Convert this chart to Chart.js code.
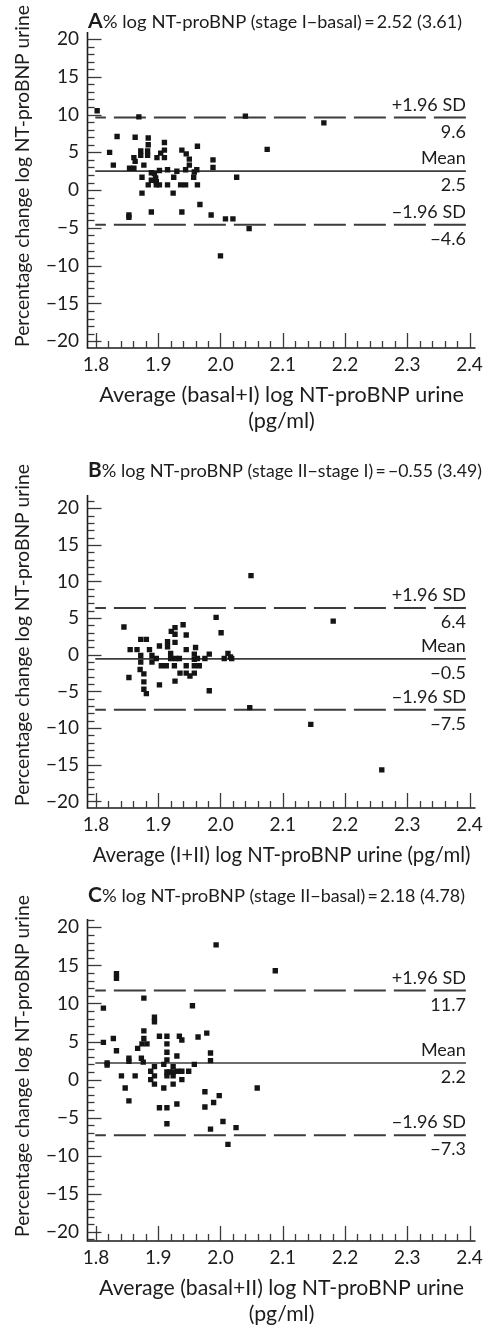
<!DOCTYPE html>
<html><head><meta charset="utf-8">
<script src="https://cdn.jsdelivr.net/npm/chart.js@4.4.1/dist/chart.umd.min.js"></script>
<style>
html,body{margin:0;padding:0;background:#fff;}
body{width:488px;height:1328px;position:relative;overflow:hidden;}
canvas{position:absolute;left:0;display:block;}
</style></head><body>
<canvas id="cA" style="top:0px"></canvas>
<canvas id="cB" style="top:440px"></canvas>
<canvas id="cC" style="top:870px"></canvas>
<script>
// ---------- tick labels ----------
const xTicks = [1.8, 1.9, 2.0, 2.1, 2.2, 2.3, 2.4];
const yTicks = [-20, -15, -10, -5, 0, 5, 10, 15, 20];

// ---------- panel A : stage I - basal ----------
const aX = [1.802,1.869,2.040,1.834,1.863,1.884,1.884,1.910,1.910,1.963,1.822,1.872,1.883,1.872,1.883,
  1.904,1.938,1.945,1.950,1.861,1.863,1.898,1.910,1.828,1.877,1.988,1.988,1.950,2.075,1.854,1.861,
  1.889,1.894,1.902,1.915,1.930,1.944,1.958,1.962,1.874,1.896,1.925,1.957,2.026,1.884,1.897,1.902,
  1.915,1.936,1.944,1.963,1.897,1.889,1.874,1.924,1.967,1.853,1.853,1.889,1.938,1.985,2.008,2.020,
  2.046,2.000,2.166];
const aY = [10.5,9.7,9.8,7.1,7.0,6.9,6.0,6.3,5.3,5.8,5.0,5.2,5.2,4.6,4.6,
  4.9,5.3,4.8,4.1,4.3,3.8,4.3,4.3,3.3,3.3,4.0,3.0,3.3,5.4,2.9,2.9,
  2.3,2.2,2.6,2.7,2.5,2.7,2.4,2.7,1.7,1.6,1.7,1.7,1.7,0.7,0.7,0.7,
  0.7,0.7,0.7,0.7,1.1,1.3,-0.4,-0.4,-1.9,-3.3,-3.6,-2.9,-2.9,-3.3,-3.8,-3.8,
  -5.1,-8.7,8.9];
const aLines = [2.52, 9.6, -4.6];           // mean, +1.96 SD, -1.96 SD
const aLineText = ['2.5', '9.6', '\u22124.6'];

// ---------- panel B : stage II - stage I ----------
const bX = [2.049,1.993,2.001,1.845,1.940,1.921,1.927,1.927,1.945,1.927,1.872,1.881,1.902,1.915,1.915,
  1.855,1.866,1.886,1.945,1.960,1.872,1.872,1.890,1.897,1.890,1.920,1.920,1.928,1.934,1.958,1.958,
  1.963,1.975,1.982,2.006,2.012,2.018,1.905,1.913,1.926,1.945,1.958,1.966,1.871,1.877,1.877,1.935,
  1.945,1.951,1.958,1.853,1.902,1.927,1.877,1.881,1.982,2.047,2.181,2.016,2.145,2.259];
const bY = [10.8,5.1,3.0,3.8,4.1,3.2,3.7,2.8,2.7,1.7,2.1,2.1,1.2,1.8,1.1,
  0.7,0.7,0.7,0.7,1.0,-0.1,-1.0,-0.1,-0.5,-1.0,0.2,-0.5,-0.5,-0.5,0.1,-0.6,
  -0.5,-0.5,0.1,-0.5,0.2,-0.5,-1.5,-1.5,-1.5,-1.5,-1.5,-1.5,-2.0,-2.6,-3.7,-2.5,
  -2.5,-2.9,-2.5,-3.1,-4.1,-3.6,-4.7,-5.3,-4.9,-7.2,4.6,-0.3,-9.5,-15.7];
const bLines = [-0.55, 6.4, -7.5];
const bLineText = ['\u22120.5', '6.4', '\u22127.5'];

// ---------- panel C : stage II - basal ----------
const cX = [1.993,2.088,1.833,1.833,1.877,1.955,1.812,1.894,1.894,1.877,1.978,1.902,1.914,1.934,1.938,
  1.964,1.828,1.812,1.877,1.874,1.882,1.914,1.867,1.833,1.914,1.984,1.930,1.853,1.853,1.873,1.876,
  1.914,1.984,1.818,1.818,1.909,1.958,1.894,1.924,1.914,1.919,1.924,1.931,1.938,1.949,1.888,1.841,
  1.863,1.894,1.914,1.924,1.888,1.938,1.894,1.924,1.847,1.909,2.059,1.975,1.998,1.853,1.989,1.930,
  1.902,1.914,1.975,1.914,2.004,1.984,2.025,2.012];
const cY = [17.7,14.3,13.9,13.3,10.7,9.7,9.4,8.2,7.6,6.4,6.1,5.7,5.7,5.7,5.2,
  5.6,5.4,4.9,5.4,4.7,4.7,4.7,4.1,3.8,3.6,3.5,3.1,2.8,2.4,2.8,2.3,
  2.6,2.5,2.2,1.9,2.0,2.0,1.7,1.7,1.0,1.0,1.0,1.1,1.1,1.1,1.1,0.5,
  0.5,0.5,0.5,0.5,0.0,0.0,-0.6,-0.6,-1.1,-1.1,-1.1,-1.6,-2.1,-2.8,-3.0,-3.2,
  -3.7,-3.7,-3.6,-5.8,-5.5,-6.5,-6.3,-8.5];
const cLines = [2.18, 11.7, -7.3];
const cLineText = ['2.2', '11.7', '\u22127.3'];

// ---------- shared ----------
const xRange = [1.7865, 2.4095];
const lineSpan = [1.799, 2.394];
const FONT = 'Lato';
const INK = '#1c1c1c';

const panels = [
  { id:'cA', h:440, top:0, chartTop:32, chartBottom:348, yMin:-20.9, yMax:20.93,
    xs:aX, ys:aY, lines:aLines, lineText:aLineText,
    title:['A', '% log NT-proBNP', ' (stage I\u2212basal)\u2009=\u20092.52 (3.61)'], titleW:374, titleBase:28,
    xTitle:['Average (basal+I) log NT-proBNP urine', '(pg/ml)'], yTitleC:176 },
  { id:'cB', h:430, top:440, chartTop:495, chartBottom:808, yMin:-20.9, yMax:21.8,
    xs:bX, ys:bY, lines:bLines, lineText:bLineText,
    title:['B', '% log NT-proBNP', ' (stage II\u2212stage I)\u2009=\u2009\u22120.55 (3.49)'], titleW:394, titleBase:477,
    xTitle:['Average (I+II) log NT-proBNP urine (pg/ml)'], yTitleC:635 },
  { id:'cC', h:458, top:870, chartTop:919, chartBottom:1241, yMin:-21.2, yMax:21.1,
    xs:cX, ys:cY, lines:cLines, lineText:cLineText,
    title:['C', '% log NT-proBNP', ' (stage II\u2212basal)\u2009=\u20092.18 (4.78)'], titleW:377, titleBase:902,
    xTitle:['Average (basal+II) log NT-proBNP urine', '(pg/ml)'], yTitleC:1066 }
];

function fitSize(ctx, text, weight, target, nominal){
  ctx.font = weight + ' ' + nominal + 'px ' + FONT;
  const w = ctx.measureText(text).width;
  return Math.max(nominal*0.85, Math.min(nominal*1.2, nominal*target/w));
}

function decorPlugin(p){
  return { id:'decor', afterDraw(chart){
    const {ctx, chartArea:a, scales:{x, y}} = chart;
    const off = p.top;
    ctx.save();
    // axis lines
    ctx.strokeStyle = '#1a1a1a'; ctx.lineWidth = 1.6;
    ctx.beginPath(); ctx.moveTo(a.left, a.top); ctx.lineTo(a.left, a.bottom); ctx.lineTo(a.right, a.bottom); ctx.stroke();
    // y ticks (inside)
    ctx.lineWidth = 1.3; ctx.strokeStyle = '#3a3a3a';
    for (let v = Math.ceil(y.min); v <= Math.floor(y.max); v++) {
      const py = Math.round(y.getPixelForValue(v)) + 0.5;
      const len = (v % 5 === 0) ? 14 : 7;
      ctx.beginPath(); ctx.moveTo(a.left, py); ctx.lineTo(a.left + len, py); ctx.stroke();
    }
    // x ticks (inside)
    for (let i = Math.ceil(x.min*50 - 1e-6); i <= Math.floor(x.max*50 + 1e-6); i++) {
      const px = Math.round(x.getPixelForValue(i/50)) + 0.5;
      const len = (i % 5 === 0) ? 15 : 7;
      ctx.beginPath(); ctx.moveTo(px, a.bottom); ctx.lineTo(px, a.bottom - len); ctx.stroke();
    }
    // line labels
    ctx.fillStyle = INK; ctx.textAlign = 'right'; ctx.textBaseline = 'alphabetic';
    ctx.font = '18px ' + FONT;
    const rx = x.getPixelForValue(lineSpan[1]);
    const names = ['Mean', '+1.96 SD', '\u22121.96 SD'];
    p.lines.forEach((v, i) => {
      const py = y.getPixelForValue(v);
      ctx.fillText(names[i], rx, py - 7);
      ctx.fillText(p.lineText[i], rx, py + 20);
    });
    // panel title
    ctx.textAlign = 'left';
    const parts = [['bold', 20], ['normal', 17.5], ['normal', 17]];
    let tw = 0;
    p.title.forEach((t, i) => { ctx.font = parts[i][0] + ' ' + parts[i][1] + 'px ' + FONT; tw += ctx.measureText(t).width; });
    const k = p.titleW / tw;
    ctx.save(); ctx.translate(a.left + 0.5, p.titleBase - off); ctx.scale(k, 1);
    let cx = 0;
    p.title.forEach((t, i) => { ctx.font = parts[i][0] + ' ' + parts[i][1] + 'px ' + FONT; ctx.fillText(t, cx, 0); cx += ctx.measureText(t).width; });
    ctx.restore();
    // x title
    ctx.textAlign = 'center';
    const xc = (a.left + a.right) / 2;
    const fs1 = fitSize(ctx, p.xTitle[0], 'normal', p.xTitle.length === 1 ? 378 : 365, 20);
    ctx.font = fs1 + 'px ' + FONT;
    ctx.fillText(p.xTitle[0], xc, a.bottom + 54);
    if (p.xTitle[1]) ctx.fillText(p.xTitle[1], xc, a.bottom + 80);
    // y title
    const yt = 'Percentage change log NT-proBNP urine';
    const fs2 = fitSize(ctx, yt, 'normal', 342, 20);
    ctx.font = fs2 + 'px ' + FONT;
    ctx.save(); ctx.translate(29, p.yTitleC - off); ctx.rotate(-Math.PI/2);
    ctx.fillText(yt, 0, 0);
    ctx.restore();
    ctx.restore();
  }};
}

function lineData(v){ return [{x: lineSpan[1], y: v}, {x: lineSpan[0], y: v}]; }

panels.forEach(p => {
  const cv = document.getElementById(p.id);
  cv.width = 488; cv.height = p.h;
  cv.style.width = '488px'; cv.style.height = p.h + 'px';
  const pts = p.xs.map((xv, i) => ({x: xv, y: p.ys[i]}));
  const lineDs = (v, dashed) => ({ data: lineData(v), showLine: true, borderColor: '#3c3c3c',
      borderWidth: dashed ? 2 : 1.6, borderDash: dashed ? [32, 8] : [], pointRadius: 0, order: 2, clip: false });
  new Chart(cv, {
    type: 'scatter',
    data: { datasets: [
      lineDs(p.lines[0], false), lineDs(p.lines[1], true), lineDs(p.lines[2], true),
      { data: pts, pointStyle: 'rect', pointRadius: 3.8, backgroundColor: '#141414', borderWidth: 0, order: 0 }
    ]},
    options: {
      responsive: false, animation: false, events: [],
      plugins: { legend: { display: false }, tooltip: { enabled: false }, title: { display: false } },
      layout: { padding: { top: p.chartTop - p.top, right: 9, left: 0, bottom: 0 } },
      scales: {
        x: { type: 'linear', min: xRange[0], max: xRange[1],
          afterFit(s){ s.height = p.h - (p.chartBottom - p.top); },
          afterBuildTicks(s){ s.ticks = xTicks.map(v => ({ value: v })); },
          grid: { display: false, drawTicks: false }, border: { display: false },
          ticks: { padding: 5, autoSkip: false, maxRotation: 0, color: INK,
            font: { family: FONT, size: 19 }, callback: v => Number(v).toFixed(1) } },
        y: { type: 'linear', min: p.yMin, max: p.yMax,
          afterFit(s){ s.width = 87.5; },
          afterBuildTicks(s){ s.ticks = yTicks.map(v => ({ value: v })); },
          grid: { display: false, drawTicks: false }, border: { display: false },
          ticks: { padding: 8.5, autoSkip: false, color: INK,
            font: { family: FONT, size: 19 }, callback: v => v < 0 ? '\u2212' + (-v) : String(v) } }
      }
    },
    plugins: [decorPlugin(p)]
  });
});
</script>
</body></html>
